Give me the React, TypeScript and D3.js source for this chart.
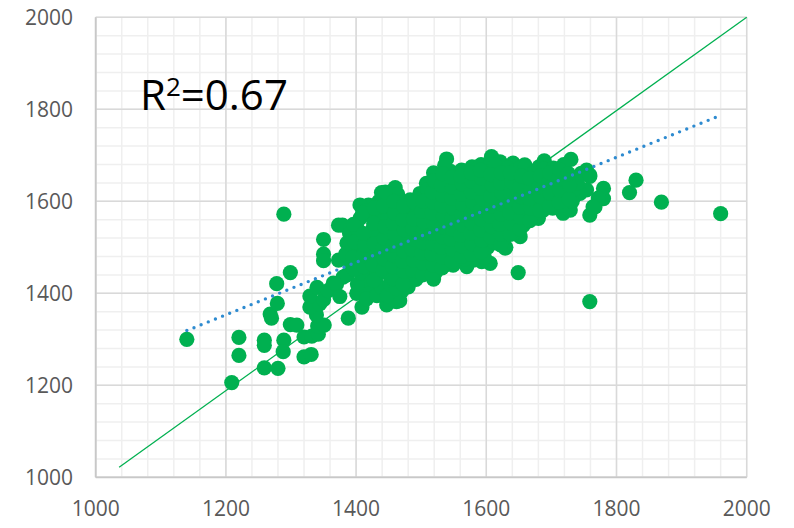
import React from "react";
import * as d3 from "d3";

// Axis tick values
const xTicks = [1000, 1200, 1400, 1600, 1800, 2000];
const yTicks = [1000, 1200, 1400, 1600, 1800, 2000];

// Scattered observations: [x, y]
const outerPoints: [number, number][] = [
  [1140, 1300], [1209, 1206], [1220, 1304], [1220, 1265], [1259, 1298], [1259, 1287],
  [1259, 1238], [1280, 1237], [1268, 1355], [1270, 1346], [1279, 1378], [1278, 1421],
  [1289, 1572], [1299, 1445], [1289, 1298], [1288, 1273], [1299, 1332], [1309, 1331],
  [1320, 1262], [1331, 1267], [1320, 1305], [1332, 1307], [1342, 1311], [1341, 1329],
  [1351, 1331], [1339, 1353], [1329, 1370], [1344, 1377], [1329, 1394], [1340, 1413],
  [1350, 1386], [1357, 1406], [1365, 1422], [1350, 1517], [1350, 1485], [1350, 1471],
  [1373, 1548], [1373, 1472], [1388, 1346], [1409, 1370], [1380, 1435], [1370, 1420],
  [1375, 1393],
  [1649, 1445], [1630, 1500], [1652, 1523], [1606, 1465], [1593, 1469], [1580, 1472],
  [1549, 1461], [1519, 1431], [1467, 1384], [1759, 1382], [1869, 1598], [1960, 1573],
  [1830, 1646], [1820, 1619], [1759, 1570], [1767, 1588], [1780, 1606], [1780, 1628],
  [1759, 1654], [1754, 1668], [1539, 1692], [1578, 1675], [1608, 1697], [1621, 1686],
  [1689, 1688], [1730, 1691], [1519, 1662], [1718, 1574], [1680, 1563], [1734, 1610],
  [1729, 1581], [1641, 1545], [1629, 1498], [1608, 1509], [1590, 1483], [1570, 1458],
  [1503, 1447], [1480, 1414], [1470, 1404], [1462, 1382], [1447, 1375], [1431, 1422],
  [1421, 1407], [1401, 1400], [1411, 1429],
  [1460, 1630], [1439, 1619], [1419, 1592], [1406, 1592], [1406, 1563], [1426, 1541],
  [1379, 1548], [1396, 1523], [1386, 1509], [1437, 1552], [1447, 1592], [1467, 1599],
  [1483, 1603], [1498, 1617], [1508, 1639], [1557, 1661], [1641, 1683], [1659, 1679],
  [1746, 1661], [1759, 1657], [1772, 1607], [1754, 1625], [1764, 1588], [1744, 1617],
];

// Dense core of observations: [x, y]
const corePoints: [number, number][] = [
  [1386, 1440], [1392, 1462], [1384, 1485], [1395, 1500], [1390, 1530],
  [1402, 1420], [1407, 1445], [1400, 1470], [1405, 1492], [1410, 1515], [1402, 1540],
  [1416, 1388], [1420, 1450], [1414, 1472], [1422, 1496], [1418, 1520], [1425, 1565], [1416, 1580],
  [1432, 1395], [1440, 1412], [1432, 1440], [1436, 1462], [1430, 1485], [1438, 1508], [1433, 1530],
  [1440, 1575], [1435, 1600],
  [1448, 1395], [1452, 1420], [1446, 1445], [1455, 1470], [1450, 1492], [1445, 1516], [1453, 1540],
  [1448, 1563], [1455, 1585], [1450, 1610],
  [1462, 1410], [1466, 1432], [1460, 1458], [1468, 1480], [1463, 1503], [1470, 1526], [1461, 1550],
  [1468, 1572], [1464, 1615],
  [1477, 1440], [1482, 1462], [1476, 1485], [1484, 1508], [1478, 1530], [1485, 1553], [1479, 1575],
  [1486, 1585],
  [1492, 1430], [1496, 1455], [1490, 1478], [1499, 1500], [1493, 1522], [1500, 1545], [1491, 1568],
  [1498, 1590], [1494, 1605],
  [1507, 1452], [1512, 1475], [1505, 1497], [1514, 1520], [1508, 1542], [1515, 1565], [1506, 1588],
  [1513, 1610], [1510, 1625],
  [1522, 1445], [1527, 1468], [1520, 1490], [1529, 1512], [1523, 1535], [1530, 1558], [1521, 1580],
  [1528, 1603], [1524, 1625], [1530, 1648],
  [1537, 1462], [1542, 1484], [1535, 1506], [1544, 1528], [1538, 1550], [1545, 1573], [1536, 1595],
  [1543, 1618], [1539, 1640], [1545, 1665], [1536, 1678],
  [1552, 1470], [1557, 1492], [1550, 1515], [1559, 1537], [1553, 1560], [1560, 1582], [1551, 1605],
  [1558, 1627], [1554, 1648], [1562, 1668],
  [1567, 1475], [1572, 1498], [1565, 1520], [1574, 1542], [1568, 1565], [1575, 1588], [1566, 1610],
  [1573, 1632], [1569, 1655],
  [1582, 1488], [1587, 1512], [1580, 1535], [1589, 1557], [1583, 1580], [1590, 1602], [1581, 1625],
  [1588, 1648], [1584, 1668], [1592, 1680],
  [1597, 1478], [1602, 1500], [1595, 1525], [1604, 1548], [1598, 1570], [1605, 1592], [1596, 1615],
  [1603, 1638], [1599, 1660], [1606, 1680],
  [1612, 1512], [1617, 1532], [1610, 1555], [1619, 1578], [1613, 1600], [1620, 1622], [1611, 1645],
  [1618, 1665], [1614, 1678],
  [1627, 1520], [1632, 1540], [1625, 1562], [1634, 1585], [1628, 1607], [1635, 1630], [1626, 1652],
  [1633, 1672],
  [1642, 1530], [1647, 1558], [1640, 1580], [1649, 1600], [1643, 1622], [1650, 1645], [1641, 1665],
  [1652, 1672],
  [1657, 1548], [1662, 1570], [1655, 1592], [1664, 1615], [1658, 1637], [1665, 1660], [1660, 1675],
  [1672, 1575], [1677, 1598], [1670, 1620], [1679, 1642], [1673, 1663], [1681, 1675],
  [1687, 1580], [1692, 1605], [1685, 1628], [1694, 1650], [1688, 1670],
  [1702, 1585], [1707, 1608], [1700, 1632], [1709, 1655], [1703, 1672],
  [1717, 1592], [1722, 1615], [1715, 1640], [1724, 1662], [1719, 1680],
  [1732, 1600], [1737, 1628], [1730, 1650], [1740, 1640],
  [1397, 1452], [1395, 1478], [1398, 1512], [1396, 1550],
  [1412, 1458], [1411, 1482], [1413, 1505], [1412, 1530], [1410, 1575],
  [1427, 1428], [1426, 1462], [1428, 1508], [1427, 1552], [1428, 1585],
  [1441, 1450], [1443, 1475], [1441, 1497], [1443, 1520], [1444, 1545], [1442, 1590], [1445, 1620],
  [1457, 1432], [1456, 1458], [1458, 1482], [1457, 1505], [1459, 1528], [1457, 1552], [1459, 1575],
  [1458, 1600],
  [1472, 1420], [1473, 1448], [1471, 1470], [1473, 1492], [1472, 1515], [1474, 1538], [1472, 1560],
  [1473, 1590],
  [1487, 1450], [1488, 1472], [1486, 1495], [1488, 1518], [1487, 1540], [1488, 1562], [1489, 1598],
  [1502, 1440], [1503, 1465], [1501, 1488], [1503, 1510], [1502, 1532], [1504, 1555], [1501, 1578],
  [1503, 1600],
  [1517, 1440], [1518, 1462], [1516, 1485], [1518, 1508], [1517, 1530], [1519, 1552], [1517, 1575],
  [1518, 1598], [1517, 1620], [1520, 1645],
  [1532, 1455], [1533, 1478], [1531, 1500], [1533, 1522], [1532, 1545], [1534, 1568], [1532, 1590],
  [1533, 1613], [1531, 1635], [1533, 1660],
  [1547, 1470], [1548, 1495], [1546, 1517], [1548, 1540], [1547, 1562], [1549, 1585], [1547, 1607],
  [1548, 1630], [1547, 1652],
  [1562, 1480], [1563, 1503], [1561, 1526], [1563, 1548], [1562, 1570], [1564, 1593], [1562, 1615],
  [1563, 1638], [1561, 1655],
  [1577, 1485], [1578, 1508], [1576, 1530], [1578, 1552], [1577, 1575], [1579, 1598], [1577, 1620],
  [1578, 1643], [1577, 1662],
  [1592, 1490], [1593, 1515], [1591, 1538], [1593, 1560], [1592, 1582], [1594, 1605], [1592, 1628],
  [1593, 1650], [1591, 1668],
  [1607, 1522], [1608, 1545], [1606, 1568], [1608, 1590], [1607, 1612], [1609, 1635], [1607, 1658],
  [1622, 1505], [1623, 1528], [1621, 1550], [1623, 1572], [1622, 1595], [1624, 1618], [1622, 1640],
  [1623, 1662],
  [1637, 1528], [1638, 1552], [1636, 1575], [1638, 1597], [1637, 1618], [1639, 1642], [1637, 1662],
  [1652, 1540], [1653, 1565], [1651, 1588], [1653, 1610], [1652, 1632], [1654, 1655],
  [1667, 1558], [1668, 1585], [1666, 1606], [1668, 1628], [1667, 1650],
  [1682, 1580], [1683, 1610], [1681, 1632], [1683, 1655],
  [1697, 1590], [1698, 1618], [1696, 1642], [1698, 1662],
  [1712, 1598], [1713, 1625], [1711, 1648], [1713, 1668],
  [1727, 1605], [1728, 1635], [1726, 1660],
];

// Reference line and fitted trend line endpoints
const refLineX = [1036, 2000];
const refLineY = [1022, 2000];
const trendX = [1140, 1953];
const trendY = [1319, 1783];
const rSquaredLabel = "0.67";

const W = 794;
const H = 528;
const plot = { left: 95.7, right: 746.7, top: 17.3, bottom: 477.3 };

export default function App() {
  const x = d3.scaleLinear().domain([1000, 2000]).range([plot.left, plot.right]);
  const y = d3.scaleLinear().domain([1000, 2000]).range([plot.bottom, plot.top]);

  const minor = d3.range(1000, 2001, 40);
  const points = [...outerPoints, ...corePoints];
  const line = d3.line<[number, number]>().x((d) => x(d[0])).y((d) => y(d[1]));
  const refLine = line(refLineX.map((v, i) => [v, refLineY[i]] as [number, number]));
  const trendLine = line(trendX.map((v, i) => [v, trendY[i]] as [number, number]));
  const font = "'Open Sans', 'Liberation Sans', sans-serif";

  return (
    <svg width={W} height={H} style={{ position: "absolute", left: 0, top: 0, background: "#fff" }}>
      <g>
        {minor.map((v) => (
          <g key={"m" + v}>
            <line x1={x(v)} x2={x(v)} y1={plot.top} y2={plot.bottom} stroke="#efefef" strokeWidth={1.5} />
            <line x1={plot.left} x2={plot.right} y1={y(v)} y2={y(v)} stroke="#efefef" strokeWidth={1.5} />
          </g>
        ))}
        {xTicks.map((v) => (
          <line key={"gx" + v} x1={x(v)} x2={x(v)} y1={plot.top} y2={plot.bottom} stroke="#d9d9d9" strokeWidth={1.5} />
        ))}
        {yTicks.map((v) => (
          <line key={"gy" + v} x1={plot.left} x2={plot.right} y1={y(v)} y2={y(v)} stroke="#d9d9d9" strokeWidth={1.5} />
        ))}
        <line x1={plot.left} x2={plot.left} y1={plot.top} y2={plot.bottom} stroke="#c8c8c8" strokeWidth={1.8} />
        <line x1={plot.left} x2={plot.right} y1={plot.bottom} y2={plot.bottom} stroke="#c8c8c8" strokeWidth={1.8} />
      </g>

      <path d={refLine ?? ""} fill="none" stroke="#00b050" strokeWidth={1.3} />

      <g>
        {points.map((p, i) => (
          <circle key={i} cx={x(p[0])} cy={y(p[1])} r={7.6} fill="#00b050" />
        ))}
      </g>

      <path
        d={trendLine ?? ""}
        fill="none"
        stroke="#2e8bd0"
        strokeWidth={3.4}
        strokeLinecap="round"
        strokeDasharray="0 7.7"
      />

      <g fontFamily={font} fontSize={21} fill="#595959">
        {yTicks.map((v) => (
          <text key={"ty" + v} x={73} y={y(v)} dy="0.36em" textAnchor="end">
            {v}
          </text>
        ))}
        {xTicks.map((v) => (
          <text key={"tx" + v} x={x(v)} y={508} dy="0.36em" textAnchor="middle">
            {v}
          </text>
        ))}
      </g>

      <text x={140} y={110} fontFamily={font} fontSize={42} fill="#000">
        R
        <tspan fontSize={26} dy={-14}>2</tspan>
        <tspan dy={14}>={rSquaredLabel}</tspan>
      </text>
    </svg>
  );
}
